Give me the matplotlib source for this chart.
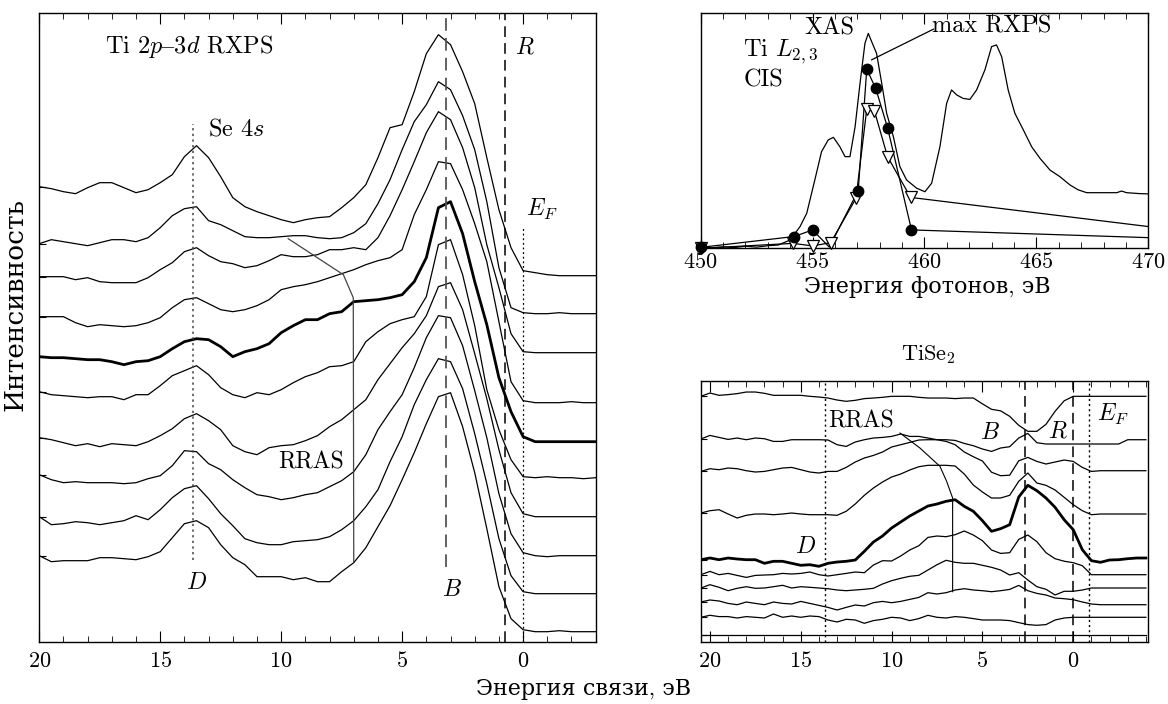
import numpy as np
import matplotlib
matplotlib.use("Agg")
import matplotlib.pyplot as plt
from matplotlib.ticker import MultipleLocator

plt.rcParams["font.family"] = ["cmr10", "DejaVu Serif"]
plt.rcParams["mathtext.fontset"] = "cm"
plt.rcParams["axes.formatter.use_mathtext"] = True
plt.rcParams["axes.unicode_minus"] = False
plt.rcParams["font.size"] = 16

# ---- left panel: Ti 2p-3d RXPS, binding energy grid 20 ... -3 eV
e_left = np.arange(20.0, -3.01, -0.5)
rxps = [
    [89, 87, 84, 82, 88, 93, 93, 88, 83, 86, 93, 101, 119, 130, 118, 99, 78, 69, 64, 60, 56, 53, 56, 58, 59, 68, 78, 91, 118, 148, 151, 184, 222, 241, 231, 204, 172, 118, 66, 28, 5, 3, 1, 0, 0, 0, 0],
    [70, 74, 72, 70, 68, 71, 74, 74, 72, 76, 86, 98, 105, 107, 93, 89, 83, 77, 76, 76, 77, 78, 78, 76, 75, 76, 81, 90, 110, 134, 164, 192, 209, 232, 224, 198, 164, 112, 46, 6, 1, 0, 0, 1, 0, 0, 0],
    [76, 76, 76, 73, 75, 71, 70, 70, 70, 75, 83, 90, 101, 105, 97, 91, 89, 85, 87, 92, 98, 96, 96, 98, 103, 103, 105, 103, 115, 137, 163, 191, 220, 241, 233, 205, 165, 108, 65, 19, 1, 0, 0, 0, 0, 0, 0],
    [86, 86, 86, 80, 76, 78, 77, 76, 77, 80, 85, 95, 103, 105, 99, 93, 91, 93, 97, 103, 113, 116, 118, 121, 125, 129, 133, 138, 142, 145, 153, 188, 213, 241, 239, 213, 179, 141, 81, 21, 2, 0, 0, 0, 1, 0, 0],
    [85, 84, 84, 83, 82, 82, 80, 77, 80, 81, 85, 93, 100, 103, 102, 95, 85, 90, 93, 98, 109, 116, 122, 122, 128, 130, 140, 141, 142, 144, 147, 160, 184, 234, 240, 208, 160, 117, 64, 30, 5, 0, 0, 0, 0, 0, 0],
    [86, 83, 82, 81, 80, 81, 81, 78, 83, 83, 92, 102, 107, 112, 103, 90, 83, 80, 85, 83, 88, 95, 101, 105, 111, 112, 116, 136, 146, 154, 158, 161, 181, 233, 238, 203, 152, 88, 48, 18, 1, 0, 1, 0, 0, -1, 0],
    [79, 77, 74, 71, 73, 70, 73, 72, 71, 75, 81, 88, 98, 103, 96, 87, 71, 65, 62, 69, 71, 72, 76, 81, 90, 97, 107, 117, 137, 153, 169, 183, 201, 230, 234, 207, 163, 118, 67, 24, 3, 0, 0, 0, 0, 0, 0],
    [81, 76, 73, 74, 73, 73, 73, 72, 73, 77, 80, 90, 105, 104, 92, 86, 76, 68, 61, 59, 56, 58, 61, 63, 69, 75, 84, 101, 126, 144, 161, 188, 218, 240, 238, 210, 165, 118, 62, 22, 3, 0, -1, 0, 0, 0, 0],
    [77, 69, 70, 72, 71, 69, 71, 73, 78, 74, 84, 96, 105, 108, 95, 80, 68, 55, 51, 49, 49, 52, 53, 54, 57, 64, 73, 87, 104, 132, 157, 189, 214, 235, 232, 205, 160, 110, 55, 18, 2, 0, 0, 0, 0, 0, 0],
    [76, 70, 71, 71, 71, 74, 74, 73, 72, 75, 80, 94, 108, 111, 104, 87, 74, 67, 55, 55, 55, 52, 54, 50, 50, 60, 69, 84, 105, 126, 152, 179, 208, 235, 239, 205, 159, 103, 45, 13, 2, 0, 0, 1, 0, 0, 0],
]
rxps_offsets = [366, 328, 289, 239, 200, 164, 125, 86, 48, 10]
rxps_thick = 4
left_rras_e = [9.71, 7.43, 7.02, 7.0]
left_rras_i = [403, 367, 344, 80]

# ---- top right: Ti L2,3 XAS and CIS
xas_e = [450.0, 450.5, 451.0, 451.5, 452.0, 452.5, 453.0, 453.47, 453.99, 454.44, 454.74, 455.1,
         455.4, 455.7, 455.93, 456.22, 456.45, 456.67, 456.9, 457.12, 457.34, 457.49, 457.64, 457.86,
         458.09, 458.31, 458.61, 458.9, 459.2, 459.65, 460.02, 460.32, 460.69, 460.99, 461.21, 461.44,
         461.73, 462.03, 462.33, 462.7, 463.0, 463.22, 463.45, 463.74, 464.04, 464.42, 464.79, 465.16,
         465.61, 466.05, 466.5, 466.87, 467.25, 467.84, 468.59, 468.81, 469.03, 469.63, 470.0]
xas_i = [0.7, 0.2, 0.6, 0.3, 0.9, 0.5, 1.1, 1.4, 3.5, 9.2, 14.9, 29.0,
         41.0, 46.0, 47.1, 43.1, 38.9, 38.9, 51.6, 70.0, 87.0, 91.2, 87.7, 82.7,
         70.0, 57.3, 47.4, 34.7, 29.0, 25.5, 24.0, 27.6, 43.1, 61.5, 67.2, 65.1,
         63.6, 63.2, 67.2, 75.7, 85.6, 86.3, 81.3, 67.2, 57.3, 50.2, 43.1, 38.2,
         33.2, 30.4, 26.9, 24.8, 23.6, 23.6, 23.6, 24.3, 23.6, 23.2, 23.1]
cis_max_e = [450.0, 454.18, 455.0, 455.75, 457.04, 457.42, 457.82, 458.35, 459.42, 472.0]
cis_max_i = [0.4, 5.0, 7.8, 0.5, 24.5, 76.0, 67.9, 51.2, 7.8, 3.9]
cis_max_shown = [True, True, True, False, True, True, True, True, True, False]
cis_tri_e = [450.0, 454.14, 455.0, 455.81, 456.94, 457.42, 457.76, 458.35, 459.38, 472.0]
cis_tri_i = [0.0, 2.1, 1.0, 2.4, 21.2, 59.0, 58.4, 38.9, 21.6, 6.9]
cis_tri_shown = [True, True, True, True, True, True, True, True, True, False]

# ---- bottom right: TiSe2, grid 20.5 ... -4 eV
e_tise = np.arange(20.5, -4.01, -0.5)
tise = [
    [0, 3.3, 1, 1.7, 2.7, 4.3, 4.3, 3, 1, 1, 1, 1, 0, -0.7, -1.7, -3.7, -5, -4, -2.3, -1.7, -1, 0, 0, 0, -1, -1.7, -1.7, -1.7, -2.3, -1.7, -1.7, -7.5, -13, -14.5, -20, -29, -35, -35, -28, -15, -4.5, 0, 0, 0, 0, 0, 0, 0, 0, 0],
    [0.7, 4.3, 2.3, 0.3, 1.7, 0, 1.7, 1, -1.7, -1.7, 0, 0, 0, 0, -0.3, -5, -6.7, -2.3, 0, 1.7, 2.3, 3.3, 5.7, 3.3, 3.3, 1.7, 0, 0, -0.7, -3.7, -6, -9.3, -11.7, -8.3, -7, 1.7, 6.3, -3, -4.3, -4.3, -4.3, -4.3, -4.3, -4.3, -4.3, -4.3, -4.3, 0, 0, 0],
    [-0.7, 2, 1, 2.7, 2, 0, -1.3, -0.7, 1, 2.7, 3.3, 1, -1.3, -2.3, -0.7, -0.7, 3.3, 8.7, 12.7, 15.3, 18.7, 23.7, 26, 28.3, 30.7, 31, 31, 29.3, 26, 18.7, 14, 9.7, -1.5, -5, -4.5, 9.9, 13.3, 9.3, 6.7, 8.7, 10.7, 9.3, 3.3, -0.7, 0, 0, 0, 0, 0, 0],
    [1, 3.3, 4.3, 0, -4, -1.3, 0, 0, -0.7, 0, 1, 0, -0.7, -0.7, -0.7, -1.3, 2.7, 10, 18.7, 26, 32, 37, 40, 44, 47.3, 48.7, 48.7, 48.7, 48, 40, 29, 22, 16, 16, 18.7, 32.7, 41, 31, 28.7, 24, 16.7, 9.3, 3.3, -0.7, 0, 0, 0, 0, 0, 0],
    [-1.7, 0, -1.7, 0, -1, -1.7, -1.7, -5.3, -3.3, -3.3, -5.3, -7.3, -6.7, -8.3, -5.3, -4, -3.3, -2, 6.7, 16, 22, 30, 36, 42, 47, 52, 54, 56.7, 58.3, 51.7, 46.7, 37.3, 26.7, 29.3, 33.3, 61, 72.7, 67.3, 60, 50.7, 38.3, 28.3, 8.3, -2.7, -4.3, -2, -1.7, -0.7, 0, 0],
    [0, 3.3, 0, 1.3, -0.7, -2.7, -0.7, -0.3, 0, 1.3, 0.7, 1.3, 2.7, 0, -1.3, 0, 1.3, 2.7, 2, 9.7, 14, 13.7, 18.7, 24.7, 29, 37.3, 38.7, 38, 40, 43.7, 39.7, 34, 24.7, 21.3, 22, 35.3, 39.7, 33, 22, 16, 13.5, 12, 9, 0, 0, 0, 0, 0, 0, 0],
    [0, 3.3, 0.7, -2.7, -0.3, 1.3, -0.3, 0, 1.3, 2.7, 0, 1.3, 0.7, 0, -0.7, -2, -2.7, -2, -1.3, -0.3, 4, 7.3, 9.7, 11.7, 12.7, 18, 23.3, 27.7, 25.7, 24.7, 24.7, 22.7, 20.7, 18, 13, 15.3, 8, 1.3, -1.3, -7, -3.3, -3.3, -2, 0, 0, 0, 0, 0, 0, 0],
    [2.7, 4.7, 3.7, 1.3, 0, 2.7, 1.3, 0, 2.7, 1.3, 0.7, 3.3, 1.3, -0.7, -2.7, -5.3, -2.7, -0.3, -1.3, 2, 3.3, 2, 3.3, 5.3, 7.3, 12, 10.7, 12, 14.7, 16, 14.7, 14, 13, 14, 15.3, 19.3, 14, 11.3, 9.7, 6.7, 6, 5, 2.7, 0.7, 0, 0, 0, 0, 0, 0],
    [0, 2, 0.7, 0.7, -0.7, 0.7, 0, -0.7, 3.3, 0, 1.3, 0, 1.3, 0.7, -2.7, -4.7, -2, -2.7, -6, -3.3, -2, 0, -0.7, -3.3, -1.3, 2, 0, -0.7, 0.7, 0, -1.3, -2.7, -2.7, -2.7, -3.3, -5.3, -7.3, -8, -7.3, -2.7, -0.7, 0, 0, 0, 0, 0, 0, 0, 0, 0],
    [0] * 50,
]
tise_offsets = [245.4, 202.0, 171.0, 127.7, 83.7, 67.0, 53.7, 37.0, 24.4, 7.0]
tise_thick = 4
right_rras_e = [9.54, 8.44, 7.34, 6.97, 6.64, 6.64]
right_rras_i = [208.7, 193.7, 175.4, 160.4, 143.7, 50.0]

fig = plt.figure(figsize=(11.68, 7.04), dpi=100)
ax = fig.add_axes([0.0336, 0.0885, 0.4764, 0.8935])
ax_top = fig.add_axes([0.5999, 0.6473, 0.3832, 0.3347])
ax_bot = fig.add_axes([0.5999, 0.0885, 0.3832, 0.3707])

dash = (0, (7, 4))
dot = (0, (1.5, 2.2))
txt = 17.5

# left panel
for k, (vals, off) in enumerate(zip(rxps, rxps_offsets)):
    lw = 2.0 if k == rxps_thick else 0.9
    ax.plot(e_left, np.array(vals) + off, color="black", lw=lw)
ax.plot(left_rras_e, left_rras_i, color="#444444", lw=0.9)
ax.plot([13.63, 13.63], [82, 518], color="#444444", lw=1.1, ls=dot)
ax.plot([3.2, 3.2], [75, 629], color="#555555", lw=1.3, ls=dash)
ax.axvline(0.74, color="black", lw=1.1, ls=dash)
ax.plot([0, 0], [0, 415], color="black", lw=0.9, ls=dot)
ax.set_xlim(20, -3)
ax.set_ylim(0, 629)
ax.xaxis.set_major_locator(MultipleLocator(5))
ax.xaxis.set_minor_locator(MultipleLocator(1))
ax.set_yticks([v[0] + o for v, o in zip(rxps, rxps_offsets)])
ax.set_yticklabels([])
ax.tick_params(which="both", direction="in", top=True)
ax.tick_params(which="major", length=8, pad=7)
ax.tick_params(which="minor", length=4)
ax.tick_params(axis="y", length=5)
ax.text(17.28, 595, r"Ti $2p\mathrm{–}3d$ RXPS", ha="left", va="center", fontsize=txt)
ax.text(13.03, 512, "Se $4s$", ha="left", va="center", fontsize=txt)
ax.text(-0.08, 594, "$R$", ha="center", va="center", fontsize=17)
ax.text(-0.77, 432, "$E_F$", ha="center", va="center", fontsize=17)
ax.text(13.52, 59, "$D$", ha="center", va="center", fontsize=17)
ax.text(2.94, 52, "$B$", ha="center", va="center", fontsize=17)
ax.text(7.41, 179, "RRAS", ha="right", va="center", fontsize=17)

# top right panel
ax_top.plot(xas_e, xas_i, color="black", lw=0.9)
ax_top.plot(cis_tri_e, cis_tri_i, color="black", lw=0.9)
ax_top.plot(cis_max_e, cis_max_i, color="black", lw=0.9)
te = np.array(cis_tri_e)[cis_tri_shown]
ti = np.array(cis_tri_i)[cis_tri_shown]
ax_top.plot(te, ti, ls="none", marker="v", ms=9, mfc="white", mec="black", mew=0.9, clip_on=False, zorder=3)
me = np.array(cis_max_e)[cis_max_shown]
mi = np.array(cis_max_i)[cis_max_shown]
ax_top.plot(me, mi, ls="none", marker="o", ms=7.5, color="black", clip_on=False, zorder=4)
ax_top.set_xlim(450, 470)
ax_top.set_ylim(0, 100)
ax_top.xaxis.set_major_locator(MultipleLocator(5))
ax_top.xaxis.set_minor_locator(MultipleLocator(1))
ax_top.set_yticks([])
ax_top.tick_params(which="both", direction="in", top=True)
ax_top.tick_params(which="major", length=8, pad=3)
ax_top.tick_params(which="minor", length=4)
ax_top.text(455.73, 93.5, "XAS", ha="center", va="center", fontsize=txt)
ax_top.text(463.0, 94, "max RXPS", ha="center", va="center", fontsize=txt)
ax_top.plot([460.4, 457.64], [93, 80], color="black", lw=0.9)
ax_top.text(451.9, 83.5, "Ti $L_{2,3}$", ha="left", va="center", fontsize=txt)
ax_top.text(451.9, 71.4, "CIS", ha="left", va="center", fontsize=txt)

# bottom right panel
for k, (vals, off) in enumerate(zip(tise, tise_offsets)):
    lw = 2.0 if k == tise_thick else 0.9
    ax_bot.plot(e_tise, np.array(vals) + off, color="black", lw=lw)
ax_bot.plot(right_rras_e, right_rras_i, color="black", lw=0.8)
ax_bot.axvline(13.65, color="black", lw=1.0, ls=dot)
ax_bot.axvline(2.66, color="black", lw=1.1, ls=dash)
ax_bot.axvline(0.0, color="black", lw=1.1, ls=dash)
ax_bot.axvline(-0.87, color="black", lw=1.0, ls=dot)
ax_bot.set_xlim(20.51, -4.13)
ax_bot.set_ylim(0, 261)
ax_bot.xaxis.set_major_locator(MultipleLocator(5))
ax_bot.xaxis.set_minor_locator(MultipleLocator(1))
ax_bot.set_yticks([v[0] + o for v, o in zip(tise, tise_offsets)])
ax_bot.set_yticklabels([])
ax_bot.tick_params(which="both", direction="in", top=True)
ax_bot.tick_params(which="major", length=8, pad=7)
ax_bot.tick_params(which="minor", length=4)
ax_bot.tick_params(axis="y", length=4)
ax_bot.text(13.5, 220, "RRAS", ha="left", va="center", fontsize=17)
ax_bot.text(4.56, 209, "$B$", ha="center", va="center", fontsize=17)
ax_bot.text(0.85, 210, "$R$", ha="center", va="center", fontsize=17)
ax_bot.text(-2.18, 227, "$E_F$", ha="center", va="center", fontsize=17)
ax_bot.text(14.74, 95, "$D$", ha="center", va="center", fontsize=17)

for a in (ax, ax_top, ax_bot):
    for s in a.spines.values():
        s.set_linewidth(1.0)

fig.text(0.795, 0.496, "TiSe$_2$", ha="center", va="center")
fig.text(0.794, 0.592, "Энергия фотонов, эВ", ha="center", va="center")
fig.text(0.5, 0.02, "Энергия связи, эВ", ha="center", va="center")
fig.text(0.013, 0.567, "Интенсивность", ha="center", va="center", rotation=90, fontsize=19)

fig.savefig("out.png", dpi=100)
